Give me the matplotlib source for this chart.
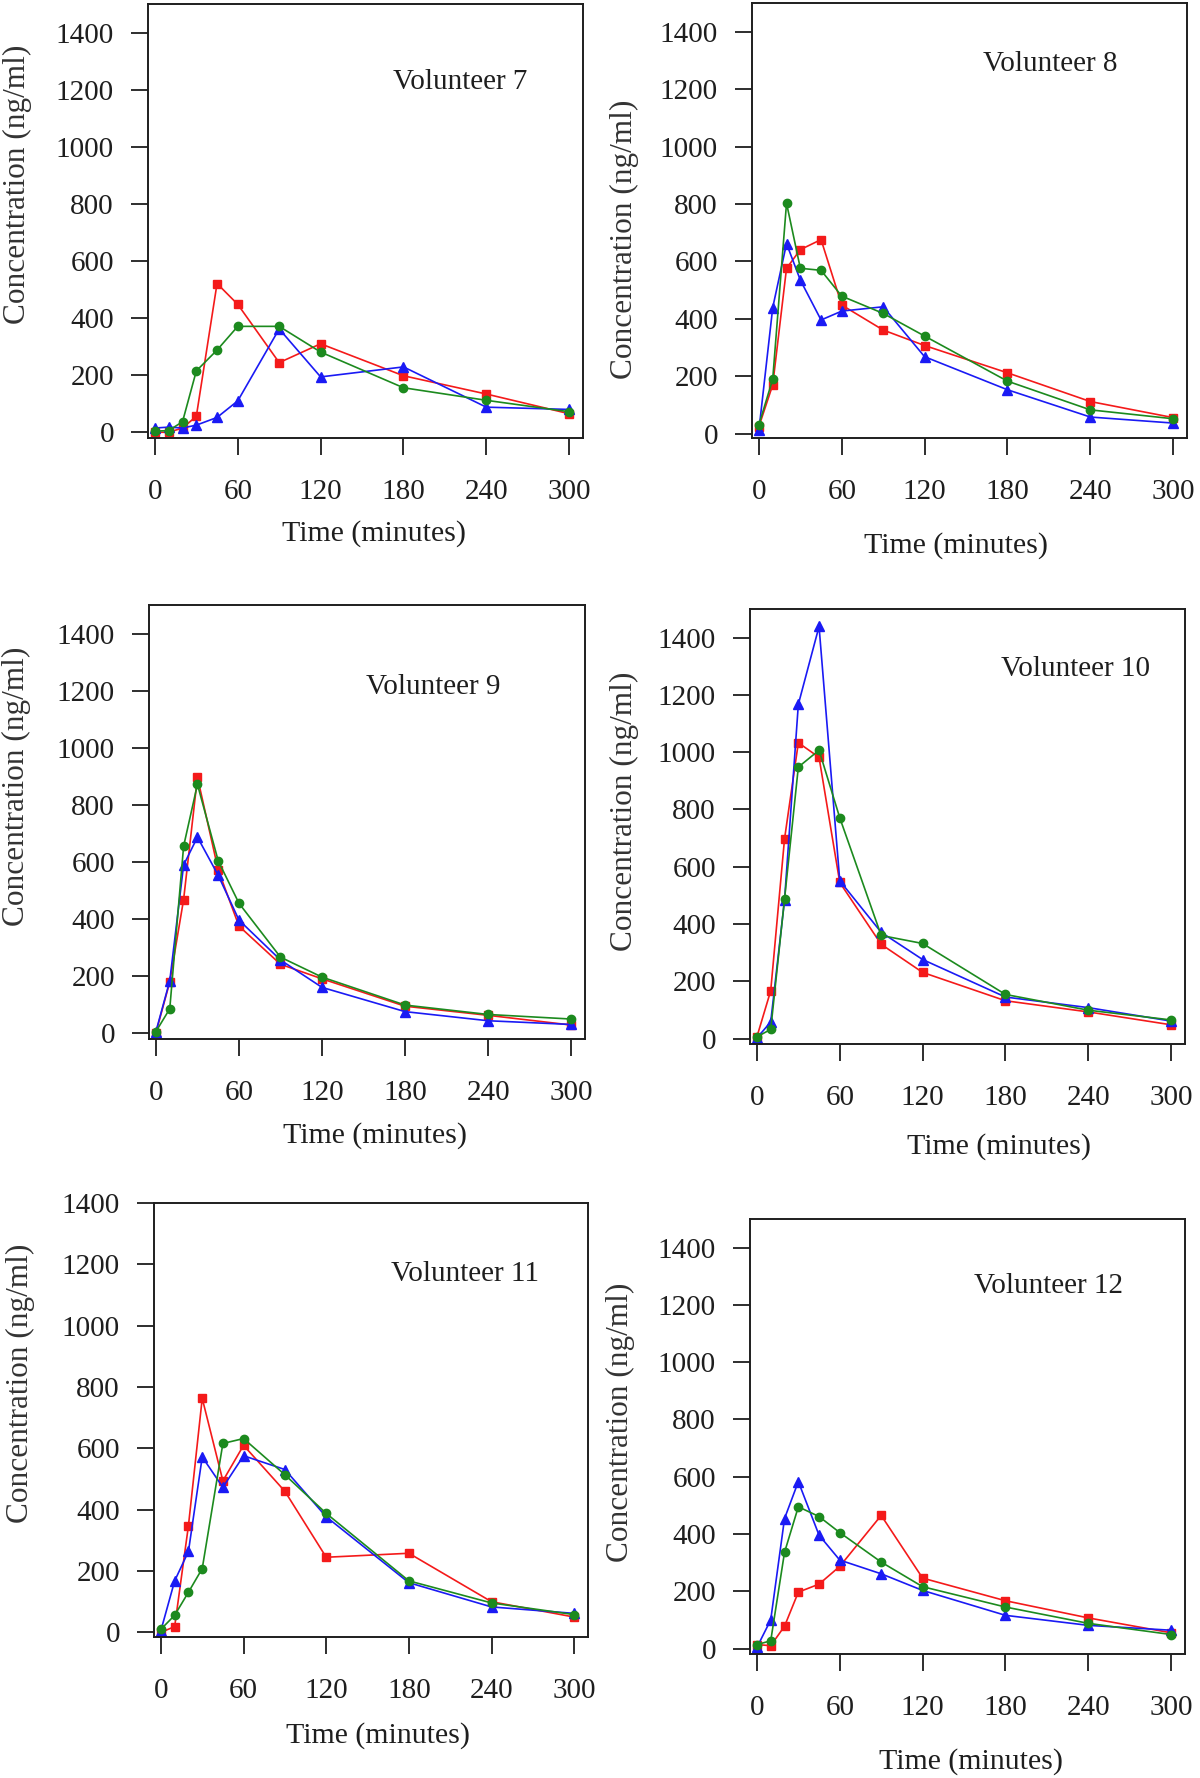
import matplotlib
matplotlib.use("Agg")
import matplotlib.pyplot as plt

plt.rcParams['font.family'] = ['Liberation Serif', 'DejaVu Serif']

# sampling times (minutes)
time = [0, 10, 20, 30, 45, 60, 90, 120, 180, 240, 300]

# concentrations (ng/ml); red = squares, green = circles, blue = triangles
v7_red = [0, 0, 15, 56, 521, 448, 244, 310, 198, 134, 65]
v7_green = [4, 6, 37, 215, 288, 371, 371, 281, 156, 112, 72]
v7_blue = [15, 18, 15, 25, 52, 110, 362, 194, 229, 88, 80]

v8_red = [25, 170, 576, 641, 676, 448, 361, 307, 212, 112, 56]
v8_green = [31, 190, 803, 576, 569, 479, 419, 340, 183, 83, 52]
v8_blue = [12, 439, 662, 535, 396, 427, 442, 268, 153, 58, 37]

v9_red = [0, 178, 467, 896, 571, 374, 240, 189, 93, 61, 27]
v9_green = [4, 84, 654, 871, 603, 454, 265, 195, 97, 64, 48]
v9_blue = [4, 182, 588, 686, 552, 395, 255, 159, 74, 42, 29]

v10_red = [6, 167, 697, 1033, 982, 545, 329, 231, 132, 93, 48]
v10_green = [6, 32, 487, 948, 1007, 771, 360, 332, 154, 99, 65]
v10_blue = [2, 58, 483, 1167, 1439, 551, 371, 276, 145, 108, 61]

v11_red = [0, 19, 348, 763, 494, 610, 460, 245, 258, 100, 50]
v11_green = [10, 56, 131, 208, 616, 632, 514, 388, 168, 96, 58]
v11_blue = [6, 168, 264, 572, 473, 576, 531, 377, 162, 83, 62]

v12_red = [14, 10, 78, 197, 225, 287, 465, 246, 167, 107, 55]
v12_green = [14, 27, 336, 495, 461, 405, 302, 216, 145, 88, 49]
v12_blue = [4, 100, 454, 583, 396, 309, 261, 203, 116, 81, 64]

titles = ["Volunteer 7", "Volunteer 8", "Volunteer 9",
          "Volunteer 10", "Volunteer 11", "Volunteer 12"]
reds = [v7_red, v8_red, v9_red, v10_red, v11_red, v12_red]
greens = [v7_green, v8_green, v9_green, v10_green, v11_green, v12_green]
blues = [v7_blue, v8_blue, v9_blue, v10_blue, v11_blue, v12_blue]

W, H = 1200, 1778
# axes boxes in pixels: left, right, top, bottom
boxes = [(148, 583, 4, 438), (752, 1187, 3, 438),
         (149, 585, 605, 1039), (750, 1185, 609, 1044),
         (154, 588, 1203, 1637), (750, 1185, 1219, 1654)]
ylims = [(-20, 1500), (-15, 1500), (-22, 1500), (-19, 1500), (-15, 1400), (-19, 1500)]
title_pos = [(0.717, 0.821), (0.685, 0.859), (0.653, 0.811), (0.748, 0.861), (0.717, 0.837), (0.687, 0.845)]
ylab_pos = [(-0.301, 0.584), (-0.293, 0.456), (-0.303, 0.583), (-0.288, 0.534), (-0.307, 0.585), (-0.297, 0.532)]
xlab_pos = [(0.52, -0.22), (0.468, -0.248), (0.518, -0.222), (0.573, -0.236), (0.517, -0.226), (0.507, -0.247)]

RED = "#f41a1a"
GREEN = "#1c8a1e"
BLUE = "#1a1af4"
INK = "#1e1e1e"

fig = plt.figure(figsize=(W / 100, H / 100), dpi=100)

for i in range(6):
    l, r, t, b = boxes[i]
    ax = fig.add_axes([l / W, 1 - b / H, (r - l) / W, (b - t) / H])
    ax.plot(time, reds[i], color=RED, marker="s", ms=6.2, lw=1.2)
    ax.plot(time, blues[i], color=BLUE, marker="^", ms=7, lw=1.2)
    ax.plot(time, greens[i], color=GREEN, marker="o", ms=6, lw=1.2)

    ax.set_xlim(-5, 310)
    ax.set_ylim(*ylims[i])
    ax.set_xticks(range(0, 301, 60))
    ax.set_yticks(range(0, 1401, 200))
    ax.tick_params(direction="out", length=12.5, width=1.3, labelsize=21,
                   colors=INK)
    ax.tick_params(axis="x", pad=17)
    ax.tick_params(axis="y", pad=12)
    for s in ax.spines.values():
        s.set_linewidth(1.4)
        s.set_color(INK)

    ax.text(*title_pos[i], titles[i], transform=ax.transAxes, fontsize=21,
            ha="center", va="center", color=INK)

    ax.set_ylabel("Concentration (ng/ml)", fontsize=22.5, color="#333333")
    ax.yaxis.set_label_coords(*ylab_pos[i])
    ax.yaxis.label.set_va("center")
    ax.set_xlabel("Time (minutes)", fontsize=21.5, color=INK)
    ax.xaxis.set_label_coords(*xlab_pos[i])
    ax.xaxis.label.set_va("center")

fig.savefig("out.png", dpi=100)
